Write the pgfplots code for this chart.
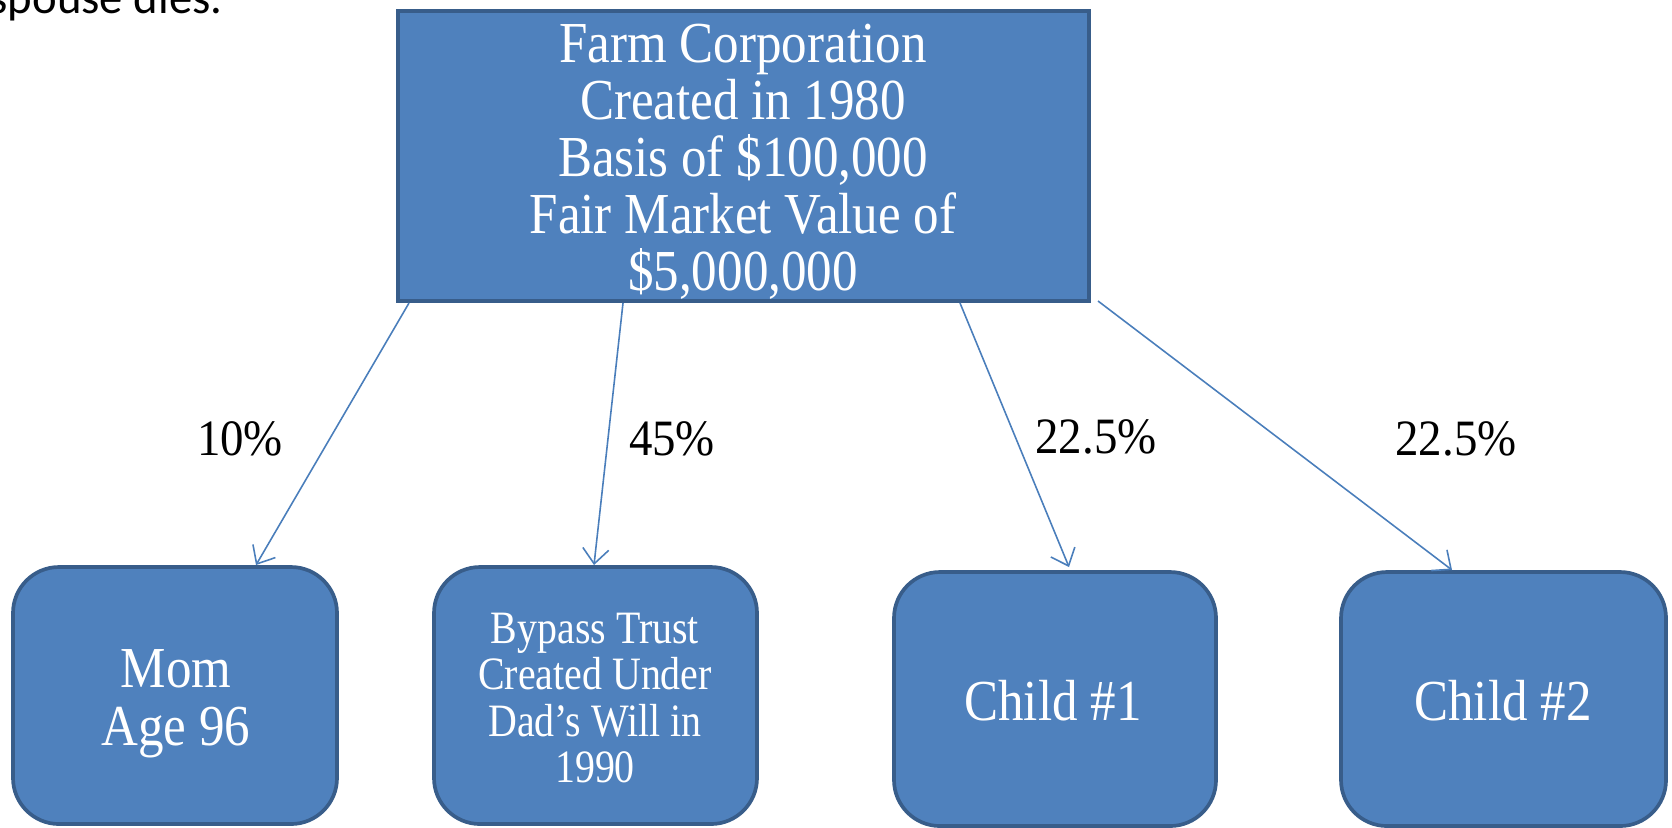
\documentclass[border=0pt]{standalone}
\usepackage{pgfplots}
\pgfplotsset{compat=1.18}
\usepackage{fontspec}
\setmainfont{Liberation Serif}[FakeStretch=0.92]
\newfontfamily\tnr{Liberation Serif}[FakeStretch=0.88]
\newfontfamily\tnrb{Liberation Serif}[FakeStretch=0.86]
\newfontfamily\calib{Carlito}
\usetikzlibrary{arrows.meta}
\definecolor{boxfill}{HTML}{4F81BD}
\definecolor{boxline}{HTML}{385D8A}
\definecolor{arrowc}{HTML}{4A7EBB}
\begin{document}
\begin{tikzpicture}
\begin{axis}[at={(0,0)}, anchor=south west, scale only axis,
  width=16.72cm, height=8.27cm,
  xmin=0, xmax=1672, ymin=0, ymax=827, y dir=reverse,
  hide axis, clip=false]
% boxes
\addplot[fill=boxfill, draw=boxline, line width=1.05pt, mark=none] coordinates {(398,11) (1089,11) (1089,301) (398,301)} -- cycle;
\addplot[fill=boxfill, draw=boxline, line width=1.05pt, mark=none, rounded corners=4.6mm] coordinates {(13,567) (337,567) (337,824) (13,824)} -- cycle;
\addplot[fill=boxfill, draw=boxline, line width=1.05pt, mark=none, rounded corners=4.6mm] coordinates {(434,567) (757,567) (757,824) (434,824)} -- cycle;
\addplot[fill=boxfill, draw=boxline, line width=1.05pt, mark=none, rounded corners=4.6mm] coordinates {(894,572) (1216,572) (1216,826) (894,826)} -- cycle;
\addplot[fill=boxfill, draw=boxline, line width=1.05pt, mark=none, rounded corners=4.6mm] coordinates {(1341,572) (1666,572) (1666,826) (1341,826)} -- cycle;
% arrows
\addplot[arrowc, line width=0.45pt, mark=none, -{Straight Barb[length=1.5mm,width=2.6mm]}] coordinates {(409,303) (256,565)};
\addplot[arrowc, line width=0.45pt, mark=none, -{Straight Barb[length=1.5mm,width=2.6mm]}] coordinates {(623,303) (594,565)};
\addplot[arrowc, line width=0.45pt, mark=none, -{Straight Barb[length=1.5mm,width=2.6mm]}] coordinates {(960,303) (1069,567)};
\addplot[arrowc, line width=0.45pt, mark=none, -{Straight Barb[length=1.5mm,width=2.6mm]}] coordinates {(1098,301) (1452,570)};
% texts
\node[white, align=center, font=\tnr\fontsize{16.5}{16.2}\selectfont] at (axis cs:743,162) {Farm Corporation\\Created in 1980\\Basis of \$100,000\\Fair Market Value of\\\$5,000,000};
\node[white, align=center, font=\tnr\fontsize{16.5}{16.4}\selectfont] at (axis cs:176,704) {Mom\\Age 96};
\node[white, align=center, font=\tnrb\fontsize{13.2}{13.1}\selectfont] at (axis cs:595,698) {Bypass Trust\\Created Under\\Dad’s Will in\\1990};
\node[white, font=\tnr\fontsize{16.5}{16.6}\selectfont] at (axis cs:1053,701) {Child \#1};
\node[white, font=\tnr\fontsize{16.5}{16.6}\selectfont] at (axis cs:1503,701) {Child \#2};
\node[black, font=\fontsize{14.5}{16}\selectfont] at (axis cs:240,439) {10\%};
\node[black, font=\fontsize{14.5}{16}\selectfont] at (axis cs:672,439) {45\%};
\node[black, font=\fontsize{14.5}{16}\selectfont] at (axis cs:1096,437) {22.5\%};
\node[black, font=\fontsize{14.5}{16}\selectfont] at (axis cs:1456,439) {22.5\%};
\node[black, anchor=base west, inner sep=0pt, font=\calib\fontsize{13.3}{15}\selectfont] at (axis cs:-11,13) {spouse dies.};
\end{axis}
\pgfresetboundingbox
\path (0,0) rectangle (16.72cm,8.27cm);
\end{tikzpicture}
\end{document}
